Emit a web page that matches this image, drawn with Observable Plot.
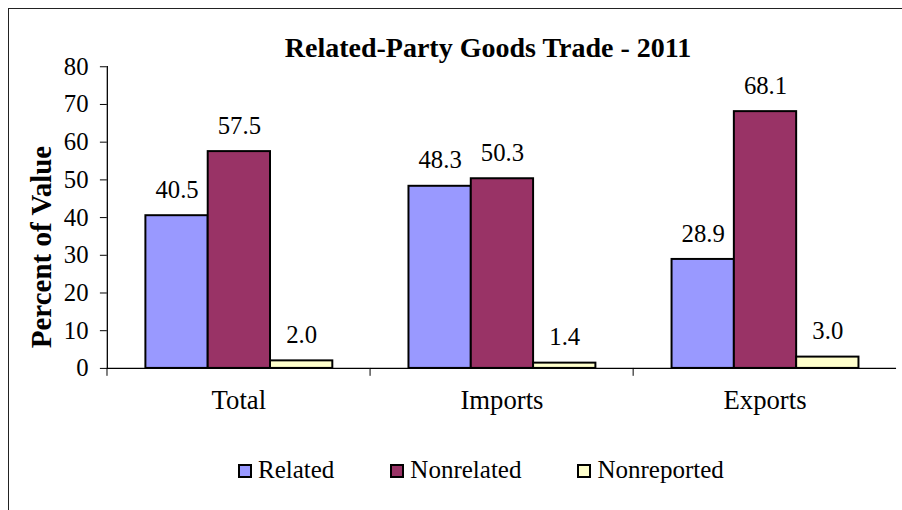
<!DOCTYPE html>
<html>
<head>
<meta charset="utf-8">
<script src="https://cdn.jsdelivr.net/npm/d3@7"></script>
<script src="https://cdn.jsdelivr.net/npm/@observablehq/plot@0.6"></script>
<style>
  html, body { margin: 0; padding: 0; background: #fff; overflow: hidden; }
  body { width: 902px; height: 510px; position: relative; font-family: "Liberation Serif", "Times New Roman", Tinos, "DejaVu Serif", serif; font-weight: 400; color: #000; }
  #border { position: absolute; left: 8px; top: 8px; width: 1000px; height: 600px; border-left: 1.5px solid #222; border-top: 1.5px solid #222; box-sizing: border-box; }
  #title { position: absolute; left: 0; width: 976px; top: 34px; text-align: center; font-weight: bold; font-size: 28px; line-height: 1; }
  #ylabel { position: absolute; left: 41px; top: 247px; transform: translate(-50%, -50%) rotate(-90deg); font-weight: bold; font-size: 29px; line-height: 1; white-space: nowrap; }
  #chart { position: absolute; left: 0; top: 0; }
  #chart svg text { font-family: "Liberation Serif", "Times New Roman", Tinos, "DejaVu Serif", serif; }
  #legend { position: absolute; left: 238px; top: 457px; display: flex; align-items: baseline; font-size: 25px; line-height: 1; }
  .item { display: flex; align-items: baseline; margin-right: 56px; }
  .sw { width: 10px; height: 10px; border: 2px solid #000; margin-right: 6px; display: inline-block; }
</style>
</head>
<body>
<div id="border"></div>
<div id="chart"></div>
<div id="title"></div>
<div id="ylabel"></div>
<div id="legend"></div>
<script>
const titleText = "Related-Party Goods Trade - 2011";
const yLabel = "Percent of Value";
const groups = ["Total", "Imports", "Exports"];
const series = ["Related", "Nonrelated", "Nonreported"];
const related = [40.5, 48.3, 28.9];
const nonrelated = [57.5, 50.3, 68.1];
const nonreported = [2.0, 1.4, 3.0];
const colors = ["#9999FF", "#993366", "#FFFFCC"];
const yTicks = [0, 10, 20, 30, 40, 50, 60, 70, 80];

const valuesBySeries = [related, nonrelated, nonreported];
const data = [];
groups.forEach((g, gi) => {
  series.forEach((s, si) => {
    data.push({group: g, series: s, value: valuesBySeries[si][gi]});
  });
});

const serif = "'Liberation Serif', 'Times New Roman', Tinos, 'DejaVu Serif', serif";
const width = 912, marginLeft = 107, marginRight = 5;
const step = (width - marginLeft - marginRight) / groups.length;

const chart = Plot.plot({
  width,
  height: 432,
  marginLeft,
  marginRight,
  marginTop: 67,
  marginBottom: 60,
  style: {fontFamily: serif, fontSize: "25px", color: "#000", background: "transparent", overflow: "visible"},
  fx: {domain: groups, padding: 0, label: null},
  x: {domain: series, paddingInner: 0, paddingOuter: 0.6, axis: null},
  y: {domain: [0, 80], label: null},
  color: {domain: series, range: colors},
  marks: [
    Plot.barY(data, {fx: "group", x: "series", y: "value", fill: "series", stroke: "#000", strokeWidth: 2}),
    Plot.text(data, {fx: "group", x: "series", y: "value", text: d => d.value.toFixed(1), dy: -18, lineAnchor: "bottom", fontSize: 25, fontFamily: serif, fill: "#000"}),
    Plot.ruleY([0], {stroke: "#000", strokeWidth: 1.3}),
    Plot.frame({anchor: "left", facetAnchor: "left", stroke: "#000", strokeWidth: 1.3}),
    Plot.axisY({ticks: yTicks, tickSize: 7, tickPadding: 12, fontSize: 25, fontFamily: serif, label: null, tickFormat: d => String(d)}),
    Plot.axisFx({anchor: "bottom", tickSize: 8, dx: -step / 2, tickFormat: () => "", label: null}),
    Plot.axisFx({anchor: "bottom", tickSize: 0, tickPadding: 22, fontSize: 27, fontFamily: serif, label: null})
  ]
});
document.getElementById("chart").appendChild(chart);

document.getElementById("title").textContent = titleText;
document.getElementById("ylabel").textContent = yLabel;

const legend = document.getElementById("legend");
series.forEach((s, i) => {
  const item = document.createElement("div");
  item.className = "item";
  const sw = document.createElement("span");
  sw.className = "sw";
  sw.style.background = colors[i];
  const label = document.createElement("span");
  label.textContent = s;
  item.appendChild(sw);
  item.appendChild(label);
  legend.appendChild(item);
});
</script>
</body>
</html>
